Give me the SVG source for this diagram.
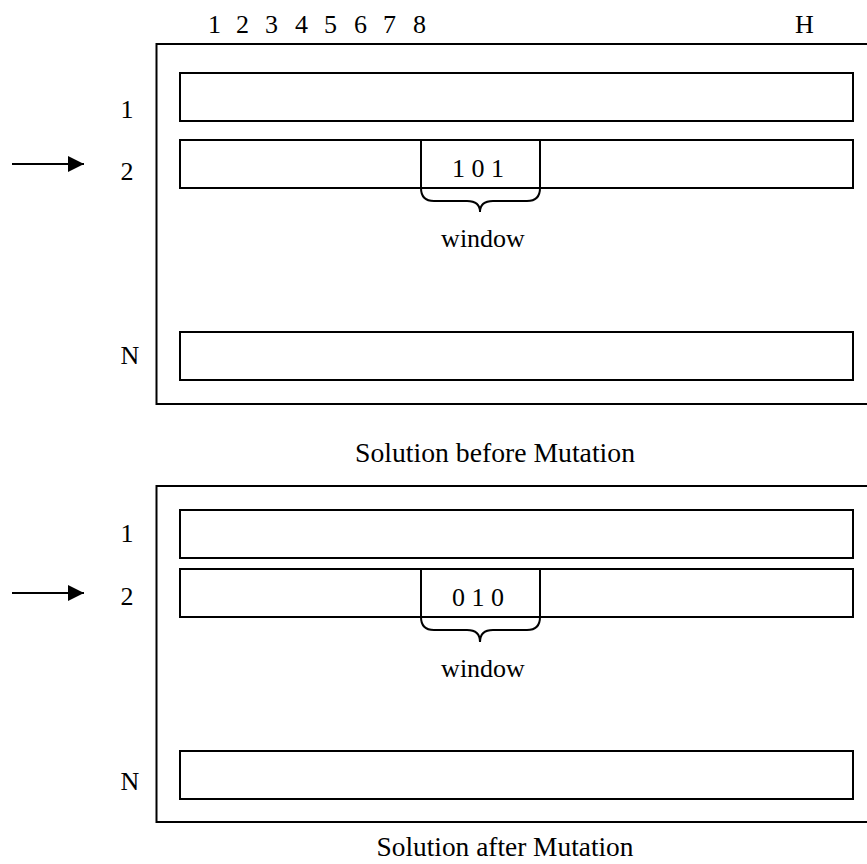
<svg xmlns="http://www.w3.org/2000/svg" width="867" height="864" viewBox="0 0 867 864">
<style>
text{font-family:"Liberation Serif","Times New Roman",serif;font-size:26px;fill:#000}
.cap{font-size:28px}
.box{fill:none;stroke:#000;stroke-width:2}
.c{text-anchor:middle}
.ln{fill:none;stroke:#000;stroke-width:2}
</style>
<defs>
<marker id="ah" viewBox="0 0 16 16" refX="16" refY="8" markerWidth="16" markerHeight="16" markerUnits="userSpaceOnUse" orient="auto">
<path d="M0,0 L16,8 L0,16 Z" fill="#000"/>
</marker>
</defs>
<g id="column-labels">
<text class="c" x="214.5" y="33">1</text>
<text class="c" x="242.5" y="33">2</text>
<text class="c" x="271.5" y="33">3</text>
<text class="c" x="301.5" y="33">4</text>
<text class="c" x="330.5" y="33">5</text>
<text class="c" x="360.5" y="33">6</text>
<text class="c" x="389.5" y="33">7</text>
<text class="c" x="419.5" y="33">8</text>
<text class="c" x="804.5" y="33">H</text>
</g>
<g id="before">
<rect id="before-outer" class="box" x="156.5" y="44" width="730" height="360"/>
<g id="before-row1"><rect class="box" x="180" y="73" width="673" height="48"/><text class="c" x="127" y="118">1</text></g>
<g id="before-row2"><rect class="box" x="180" y="140" width="673" height="48"/><text class="c" x="127" y="180">2</text></g>
<g id="before-window"><rect class="box" x="421" y="140" width="119" height="48"/><text class="c" x="478" y="177">1 0 1</text></g>
<g id="before-rowN"><rect class="box" x="180" y="332" width="673" height="48"/><text class="c" x="130" y="364">N</text></g>
<g id="before-brace"><path class="ln" d="M421,188 Q421,201 434,201 L467,201 Q480,201 480,212 Q480,201 493,201 L527,201 Q540,201 540,188"/><text class="c" x="483" y="247">window</text></g>
<text class="c cap" x="495" y="462" textLength="280" lengthAdjust="spacingAndGlyphs">Solution before Mutation</text>
</g>
<g id="after">
<rect id="after-outer" class="box" x="156.5" y="486" width="730" height="336"/>
<g id="after-row1"><rect class="box" x="180" y="510" width="673" height="48"/><text class="c" x="127" y="542">1</text></g>
<g id="after-row2"><rect class="box" x="180" y="569" width="673" height="48"/><text class="c" x="127" y="605">2</text></g>
<g id="after-window"><rect class="box" x="421" y="569" width="119" height="48"/><text class="c" x="478" y="606">0 1 0</text></g>
<g id="after-rowN"><rect class="box" x="180" y="751" width="673" height="48"/><text class="c" x="130" y="790">N</text></g>
<g id="after-brace"><path class="ln" d="M421,617 Q421,630 434,630 L467,630 Q480,630 480,642 Q480,630 493,630 L527,630 Q540,630 540,617"/><text class="c" x="483" y="677">window</text></g>
<text class="c cap" x="505" y="856" textLength="257" lengthAdjust="spacingAndGlyphs">Solution after Mutation</text>
</g>
<g id="connectors">
<line class="ln" x1="12" y1="164" x2="84" y2="164" marker-end="url(#ah)"/>
<line class="ln" x1="12" y1="593" x2="84" y2="593" marker-end="url(#ah)"/>
</g>
</svg>
